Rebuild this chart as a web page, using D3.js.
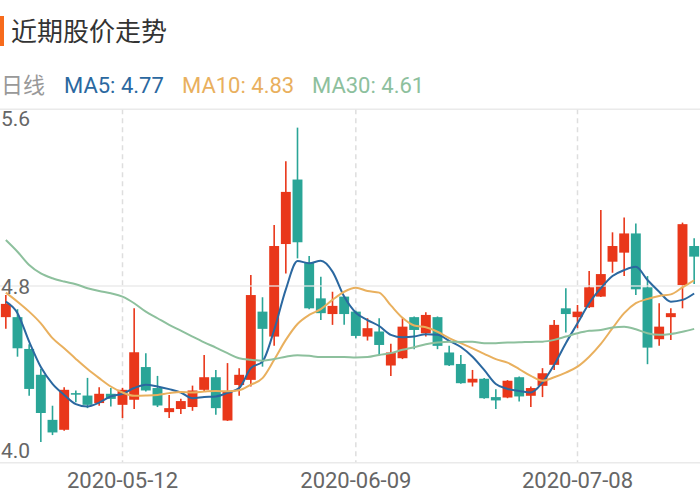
<!DOCTYPE html>
<html>

<head>
  <meta charset="utf-8" />
  <title>近期股价走势</title>
  <script src="https://d3js.org/d3.v7.min.js"></script>
  <style>
    body { margin: 0; background: #fff; }
    svg { display: block; font-family: Roboto, "Noto Sans CJK SC", sans-serif; }
  </style>
</head>

<body>

  <div id="chart"></div>

  <script type="text/javascript">
    // trading days, 2020-04-23 .. 2020-07-22
    var dates = ["2020-04-23", "2020-04-24", "2020-04-27", "2020-04-28", "2020-04-29", "2020-04-30", "2020-05-06", "2020-05-07", "2020-05-08", "2020-05-11",
      "2020-05-12", "2020-05-13", "2020-05-14", "2020-05-15", "2020-05-18", "2020-05-19", "2020-05-20", "2020-05-21", "2020-05-22", "2020-05-25",
      "2020-05-26", "2020-05-27", "2020-05-28", "2020-05-29", "2020-06-01", "2020-06-02", "2020-06-03", "2020-06-04", "2020-06-05", "2020-06-08",
      "2020-06-09", "2020-06-10", "2020-06-11", "2020-06-12", "2020-06-15", "2020-06-16", "2020-06-17", "2020-06-18", "2020-06-19", "2020-06-22",
      "2020-06-23", "2020-06-24", "2020-06-29", "2020-06-30", "2020-07-01", "2020-07-02", "2020-07-03", "2020-07-06", "2020-07-07", "2020-07-08",
      "2020-07-09", "2020-07-10", "2020-07-13", "2020-07-14", "2020-07-15", "2020-07-16", "2020-07-17", "2020-07-20", "2020-07-21", "2020-07-22"]

    var open = [4.659, 4.659, 4.515, 4.398, 4.194, 4.149, 4.315, 4.304, 4.270, 4.312,
      4.262, 4.285, 4.433, 4.338, 4.229, 4.243, 4.252, 4.330, 4.387, 4.191,
      4.352, 4.375, 4.684, 4.571, 4.990, 5.282, 4.905, 4.744, 4.673, 4.752,
      4.684, 4.571, 4.594, 4.440, 4.473, 4.659, 4.586, 4.659, 4.499, 4.447,
      4.363, 4.380, 4.297, 4.295, 4.387, 4.303, 4.348, 4.443, 4.699, 4.659,
      4.704, 4.752, 4.910, 4.951, 5.038, 4.794, 4.559, 4.659, 4.804, 4.981]
    var close = [4.719, 4.518, 4.334, 4.225, 4.137, 4.330, 4.308, 4.262, 4.312, 4.289,
      4.330, 4.500, 4.327, 4.259, 4.247, 4.279, 4.327, 4.387, 4.247, 4.322,
      4.398, 4.759, 4.606, 4.981, 5.226, 4.998, 4.699, 4.677, 4.710, 4.673,
      4.574, 4.609, 4.533, 4.499, 4.616, 4.601, 4.669, 4.529, 4.441, 4.360,
      4.380, 4.292, 4.282, 4.371, 4.300, 4.338, 4.405, 4.624, 4.673, 4.684,
      4.794, 4.854, 4.981, 5.038, 4.785, 4.521, 4.616, 4.677, 5.080, 4.933]
    var high = [4.759, 4.695, 4.536, 4.425, 4.258, 4.342, 4.327, 4.384, 4.342, 4.338,
      4.339, 4.699, 4.496, 4.393, 4.307, 4.289, 4.349, 4.488, 4.420, 4.451,
      4.428, 4.850, 4.749, 5.076, 5.365, 5.517, 4.936, 4.842, 4.774, 4.755,
      4.688, 4.654, 4.654, 4.538, 4.654, 4.662, 4.681, 4.662, 4.529, 4.488,
      4.420, 4.383, 4.333, 4.374, 4.390, 4.345, 4.428, 4.646, 4.790, 4.714,
      4.868, 5.144, 5.043, 5.110, 5.083, 4.845, 4.722, 4.699, 5.087, 5.016]
    var low = [4.606, 4.480, 4.303, 4.094, 4.125, 4.145, 4.274, 4.247, 4.258, 4.255,
      4.202, 4.243, 4.322, 4.252, 4.202, 4.220, 4.235, 4.325, 4.217, 4.189,
      4.303, 4.345, 4.435, 4.529, 4.857, 4.925, 4.695, 4.646, 4.624, 4.624,
      4.564, 4.553, 4.488, 4.393, 4.469, 4.514, 4.571, 4.514, 4.438, 4.357,
      4.345, 4.290, 4.243, 4.292, 4.277, 4.252, 4.297, 4.420, 4.589, 4.609,
      4.700, 4.750, 4.860, 4.845, 4.759, 4.446, 4.530, 4.556, 4.699, 4.809]

    var ma5 = [4.729, 4.677, 4.548, 4.433, 4.357, 4.307, 4.265, 4.254, 4.272, 4.300,
      4.312, 4.338, 4.353, 4.345, 4.333, 4.318, 4.292, 4.297, 4.300, 4.316,
      4.338, 4.428, 4.458, 4.601, 4.785, 4.913, 4.903, 4.914, 4.865, 4.752,
      4.679, 4.646, 4.619, 4.579, 4.568, 4.571, 4.582, 4.579, 4.552, 4.524,
      4.480, 4.420, 4.356, 4.334, 4.325, 4.318, 4.363, 4.443, 4.541, 4.631,
      4.722, 4.790, 4.845, 4.872, 4.887, 4.827, 4.774, 4.729, 4.737, 4.766]
    var ma10 = [4.770, 4.729, 4.684, 4.631, 4.564, 4.518, 4.470, 4.424, 4.383, 4.345,
      4.318, 4.303, 4.304, 4.307, 4.315, 4.320, 4.318, 4.322, 4.325, 4.323,
      4.328, 4.353, 4.383, 4.466, 4.556, 4.628, 4.669, 4.695, 4.737, 4.774,
      4.792, 4.777, 4.770, 4.712, 4.656, 4.621, 4.613, 4.593, 4.564, 4.541,
      4.518, 4.493, 4.469, 4.453, 4.424, 4.393, 4.371, 4.387, 4.408, 4.435,
      4.480, 4.538, 4.609, 4.677, 4.722, 4.741, 4.755, 4.762, 4.794, 4.826]
    var ma30 = [5.008, 4.955, 4.895, 4.857, 4.835, 4.820, 4.808, 4.790, 4.777, 4.767,
      4.752, 4.722, 4.684, 4.654, 4.624, 4.598, 4.571, 4.545, 4.521, 4.496,
      4.473, 4.466, 4.462, 4.469, 4.480, 4.487, 4.484, 4.478, 4.478, 4.478,
      4.476, 4.478, 4.488, 4.496, 4.511, 4.523, 4.536, 4.544, 4.548, 4.547,
      4.548, 4.541, 4.541, 4.544, 4.545, 4.547, 4.548, 4.556, 4.571, 4.586,
      4.597, 4.601, 4.612, 4.616, 4.604, 4.586, 4.579, 4.583, 4.593, 4.606]

    var yTicks = [4.0, 4.8, 5.6]
    var xTicks = ["2020-05-12", "2020-06-09", "2020-07-08"]
    var legend = [
      { name: "MA5", value: "4.77", color: "#2b68a0", data: ma5 },
      { name: "MA10", value: "4.83", color: "#e9b05e", data: ma10 },
      { name: "MA30", value: "4.61", color: "#8dc09d", data: ma30 }
    ]

    var width = 700, height = 500
    var upColor = "#e9371a", downColor = "#2aa597"

    var svg = d3.select("#chart").append("svg")
      .attr("width", width)
      .attr("height", height)

    // title
    svg.append("rect").attr("x", 0).attr("y", 16).attr("width", 4).attr("height", 30).attr("fill", "#f76b1c")
    svg.append("text").attr("x", 11).attr("y", 41)
      .attr("font-size", 26).attr("fill", "#333")
      .style("font-family", "'Noto Sans CJK SC', sans-serif")
      .text("近期股价走势")

    // legend line
    var leg = svg.append("text").attr("x", 1).attr("y", 93).attr("font-size", 22)
    leg.append("tspan").attr("fill", "#999").style("font-family", "'Noto Sans CJK SC', sans-serif").text("日线")
    var legX = [64, 182, 312]
    legend.forEach((l, i) => {
      leg.append("tspan").attr("x", legX[i]).attr("fill", l.color).text(l.name + ": " + l.value)
    })

    var x = d3.scaleBand()
      .domain(dates)
      .range([0, width])
      .paddingInner(0.15)
      .paddingOuter(0.075)
    var y = d3.scaleLinear()
      .domain([4.0, 5.6])
      .range([462.7, 109.3])
    var cx = d => x(d) + x.bandwidth() / 2

    // dashed vertical split lines
    svg.append("g").selectAll("line")
      .data(xTicks)
      .enter().append("line")
      .attr("x1", d => cx(d)).attr("x2", d => cx(d))
      .attr("y1", y(5.6)).attr("y2", y(4.0))
      .attr("stroke", "#dedede")
      .attr("stroke-width", 1.5)
      .attr("stroke-dasharray", "5,4")

    // candles
    var idx = d3.range(dates.length)
    var candle = svg.append("g").selectAll("g")
      .data(idx)
      .enter().append("g")
    candle.append("line")
      .attr("x1", i => cx(dates[i])).attr("x2", i => cx(dates[i]))
      .attr("y1", i => y(high[i])).attr("y2", i => y(low[i]))
      .attr("stroke", i => close[i] >= open[i] ? upColor : downColor)
      .attr("stroke-width", 1.6)
    candle.append("rect")
      .attr("x", i => x(dates[i]))
      .attr("width", x.bandwidth())
      .attr("y", i => y(Math.max(open[i], close[i])))
      .attr("height", i => Math.max(1.5, Math.abs(y(open[i]) - y(close[i]))))
      .attr("fill", i => close[i] >= open[i] ? upColor : downColor)

    // horizontal split lines
    svg.append("g").selectAll("line")
      .data(yTicks)
      .enter().append("line")
      .attr("x1", 0).attr("x2", width)
      .attr("y1", d => y(d)).attr("y2", d => y(d))
      .attr("stroke", "#e6e6e6")
      .attr("stroke-opacity", 0.85)
      .attr("stroke-width", 1.5)

    // moving averages
    legend.forEach(l => {
      var line = d3.line()
        .x((d, i) => cx(dates[i]))
        .y(d => y(d))
        .curve(d3.curveMonotoneX)
      svg.append("path")
        .datum(l.data)
        .attr("d", line)
        .attr("fill", "none")
        .attr("stroke", l.color)
        .attr("stroke-width", 2)
    })

    // y axis labels (inside)
    svg.append("g").selectAll("text")
      .data(yTicks)
      .enter().append("text")
      .attr("x", 1)
      .attr("y", d => d === 5.6 ? y(d) + 17 : (d === 4.0 ? y(d) - 5 : y(d) + 7.5))
      .attr("font-size", 21)
      .attr("fill", "#666")
      .text(d => d.toFixed(1))

    // x axis labels
    svg.append("g").selectAll("text")
      .data(xTicks)
      .enter().append("text")
      .attr("x", d => cx(d))
      .attr("y", 488)
      .attr("text-anchor", "middle")
      .attr("font-size", 22)
      .attr("fill", "#666")
      .text(d => d)
  </script>

</body>

</html>
